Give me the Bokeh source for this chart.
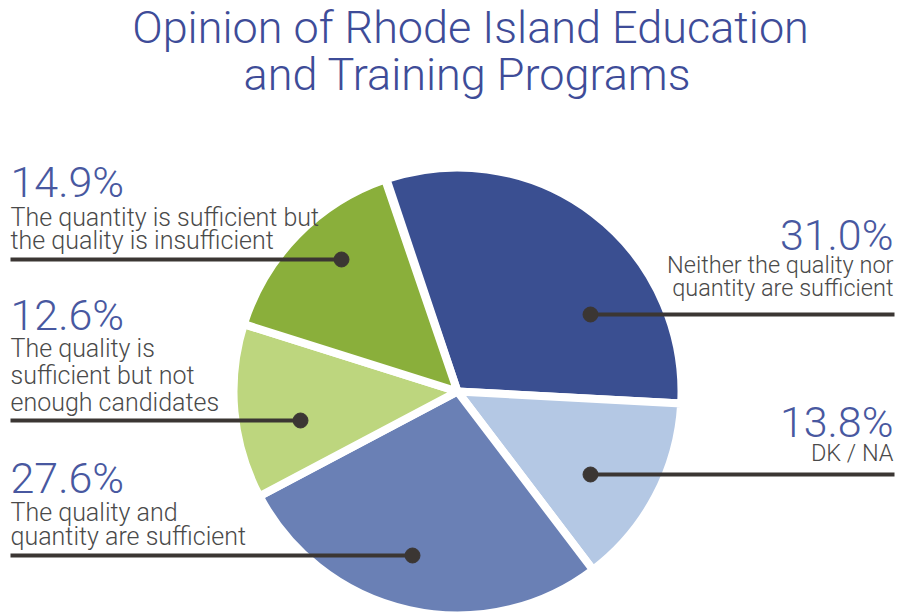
from bokeh.plotting import figure
from bokeh.models import Range1d, ColumnDataSource
from bokeh.core.properties import value
from bokeh.embed import file_html
from bokeh.resources import INLINE
import math

# ---- data (clockwise from top) ----
categories = [
    "Neither the quality nor quantity are sufficient",
    "DK / NA",
    "The quality and quantity are sufficient",
    "The quality is sufficient but not enough candidates",
    "The quantity is sufficient but the quality is insufficient",
]
percents = [31.0, 13.8, 27.6, 12.6, 14.9]
label_lines = [
    ["Neither the quality nor", "quantity are sufficient"],
    ["DK / NA"],
    ["The quality and", "quantity are sufficient"],
    ["The quality is", "sufficient but not", "enough candidates"],
    ["The quantity is sufficient but", "the quality is insufficient"],
]
colors = ["#3A4F91", "#B4C8E4", "#6A80B5", "#BDD67E", "#8AAF3B"]
title_lines = ["Opinion of Rhode Island Education", "and Training Programs"]

# ---- layout (picture pixel coordinates, y from top) ----
W, H = 898, 614
def Y(y):
    return H - y

FONT = value("Roboto Light, Lato Light, Liberation Sans, sans-serif")
BASE_SHIFT = 0.36  # fraction of font size to lift text so baselines land right

def TY(y, fs):
    return Y(y - BASE_SHIFT * fs)

cx, cy, R = 457, 391, 224
start_deg = 108.5

# per-label layout: side, pct baseline, desc baselines, line y, dot x
layout = [
    ("right", 250, [273, 296], 314, 590),
    ("right", 437, [461], 474, 590),
    ("left", 493, [521, 545], 555, 412),
    ("left", 330, [357, 384, 411], 420, 300),
    ("left", 197, [226, 249], 259, 341),
]

p = figure(width=W, height=H, x_range=Range1d(0, W), y_range=Range1d(0, H),
           output_backend="svg", toolbar_location=None, min_border=0,
           x_axis_type=None, y_axis_type=None)
p.grid.visible = False
p.outline_line_color = None
p.background_fill_color = "white"

# wedges
starts, ends = [], []
a = math.radians(start_deg)
for v in percents:
    sweep = math.radians(v * 3.6)
    starts.append(a)
    ends.append(a - sweep)
    a -= sweep
src = ColumnDataSource(dict(start=starts, end=ends, color=colors))
p.wedge(x=cx, y=Y(cy), radius=R, start_angle="start", end_angle="end",
        direction="clock", fill_color="color", line_color="white",
        line_width=8, source=src)

# leader lines and dots
lx0, lx1, ly, dx = [], [], [], []
for (side, pb, db, lyy, dotx) in layout:
    if side == "left":
        lx0.append(10); lx1.append(dotx)
    else:
        lx0.append(dotx); lx1.append(894)
    ly.append(Y(lyy)); dx.append(dotx)
p.segment(x0=lx0, y0=ly, x1=lx1, y1=ly, line_color="#3B3633", line_width=4)
p.scatter(x=dx, y=ly, size=15, color="#3B3633")

PCT_FS = 43
# percent labels and descriptions
for (side, pb, db, lyy, dotx), v, lines in zip(layout, percents, label_lines):
    if side == "left":
        tx, align, fs_desc = 10, "left", 25
    else:
        tx, align, fs_desc = 893, "right", 23.5
    p.text(x=[tx], y=[TY(pb, PCT_FS)], text=[f"{v:.1f}%"], text_align=align,
           text_baseline="alphabetic", text_font=FONT,
           text_font_size=f"{PCT_FS}px", text_color="#4858A0")
    p.text(x=[tx] * len(lines), y=[TY(b, fs_desc) for b in db], text=lines,
           text_align=align, text_baseline="alphabetic",
           text_font=FONT, text_font_size=f"{fs_desc}px",
           text_color="#4A4A4A")

# title
TFS = 45
p.text(x=[470, 467], y=[TY(43, TFS), TY(90, TFS)], text=title_lines,
       text_align="center", text_baseline="alphabetic", text_font=FONT,
       text_font_size=f"{TFS}px", text_color="#3E4C98")

open("out.html", "w").write(file_html(p, INLINE))
